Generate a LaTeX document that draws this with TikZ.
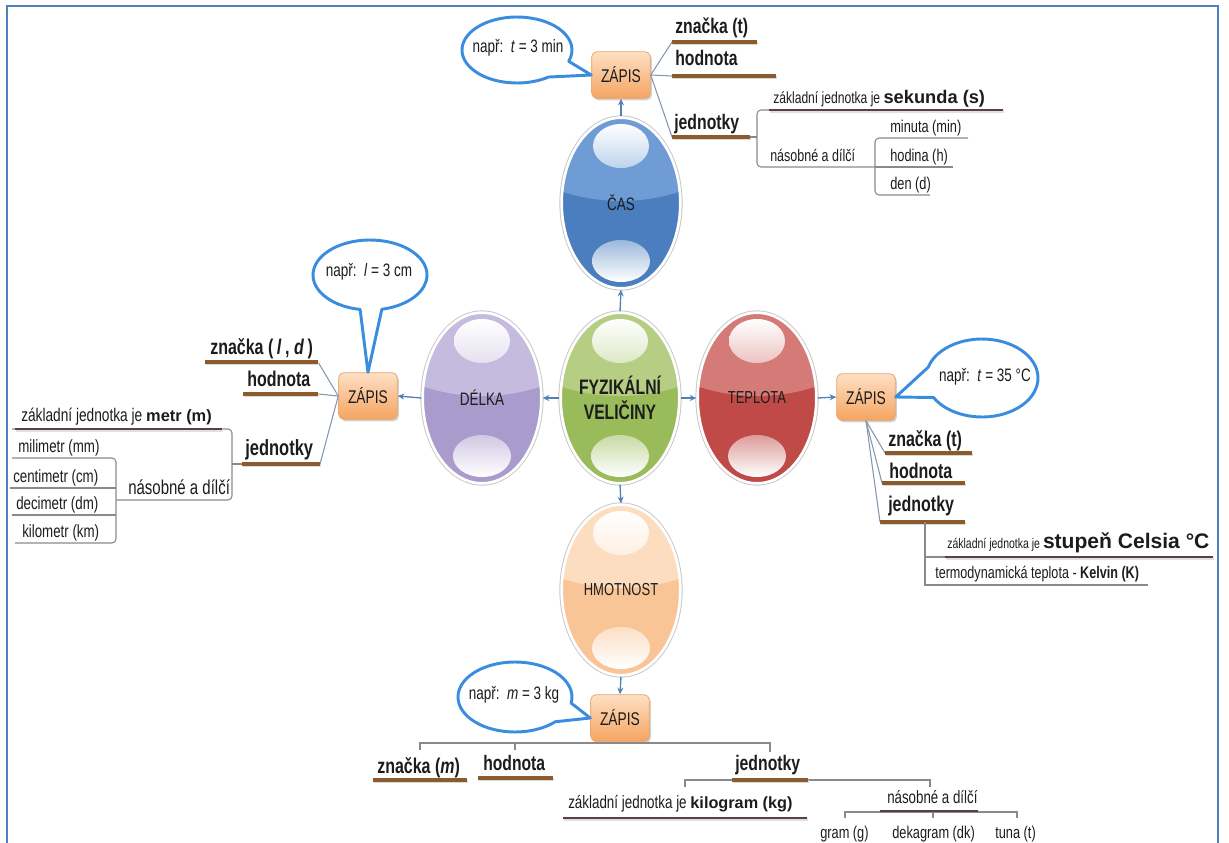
\documentclass[tikz,border=0pt]{standalone}
\usepackage{fontspec}
\setmainfont{Liberation Sans}[FakeStretch=0.75]
\newfontfamily\emf{Liberation Sans}
\usetikzlibrary{arrows.meta,shapes.geometric,calc}

\newcommand\sz[1]{\fontsize{#1pt}{\fpeval{#1*1.2}pt}\selectfont}

\definecolor{txt}{HTML}{1C1C1C}
\definecolor{framecol}{HTML}{4F81BD}
\definecolor{ulbrown}{HTML}{8C5A2C}
\definecolor{uldark}{HTML}{5A4141}
\definecolor{linegray}{HTML}{8A8A8A}
\definecolor{fancol}{HTML}{8496B0}
\definecolor{arrcol}{HTML}{5381B5}
\definecolor{bubcol}{HTML}{3A8DDE}
\definecolor{boxtop}{HTML}{FEE0C4}
\definecolor{boxbot}{HTML}{F5A460}
\definecolor{boxedge}{HTML}{E9A46C}
\definecolor{cbL}{HTML}{6F9CD4}\definecolor{cbD}{HTML}{4A7EBE}
\definecolor{gnL}{HTML}{B5CE84}\definecolor{gnD}{HTML}{9ABB59}
\definecolor{puL}{HTML}{C5BBDE}\definecolor{puD}{HTML}{A99BCB}
\definecolor{rdL}{HTML}{D47A77}\definecolor{rdD}{HTML}{BF4A47}
\definecolor{orL}{HTML}{FCDDBF}\definecolor{orD}{HTML}{F9C597}

\tikzset{
  egg/.style 2 args={shape=ellipse, inner sep=0pt, minimum width=89pt, minimum height=128pt,
    draw=white, line width=2pt, fill=#2, text=txt,
    preaction={draw=gray!45, line width=3.4pt},
    path picture={
      \coordinate (pc) at (path picture bounding box.center);
      \fill[#1] ($(pc)+(-80,-20)$) .. controls ($(pc)+(-30,4)$) and ($(pc)+(30,4)$) .. ($(pc)+(80,-20)$)
        -- ($(pc)+(80,-110)$) -- ($(pc)+(-80,-110)$) -- cycle;
      \shade[top color=white, bottom color=#1!45!white] ($(pc)+(0,-57)$) ellipse [x radius=28, y radius=22];
      \shade[top color=#2!55!white, bottom color=white] ($(pc)+(0,58)$) ellipse [x radius=29, y radius=21];
    }},
  zapis/.style={rectangle, rounded corners=4pt, minimum width=44pt, minimum height=35pt,
    draw=boxedge, line width=0.6pt, top color=boxtop, bottom color=boxbot, text=txt,
    font=\sz{13.8}, inner sep=0pt,
    preaction={fill=black!18, draw=none, transform canvas={shift={(1.2pt,-1.5pt)}}}},
  lbl/.style={anchor=base west, inner sep=0pt, text=txt},
  big/.style={lbl, font=\bfseries\sz{#1}},
  sm/.style={lbl, font=\sz{#1}},
  ul/.style={draw=ulbrown, line width=2.6pt,
    preaction={draw=black!15, line width=2.4pt, transform canvas={shift={(0.8pt,-1.4pt)}}}},
  uld/.style={draw=uldark, line width=2.2pt,
    preaction={draw=black!12, line width=2pt, transform canvas={shift={(0.8pt,-1.3pt)}}}},
  gl/.style={draw=linegray, line width=0.8pt},
  fan/.style={draw=fancol, line width=0.8pt},
  arr/.style={draw=arrcol, line width=1pt, -{Stealth[length=5pt,width=4.5pt]}},
  bubble/.style={draw=bubcol, line width=2.2pt, fill=white, line join=round},
  btext/.style={inner sep=0pt, text=txt, font=\sz{13.5}},
}

\begin{document}
\begin{tikzpicture}[x=0.75pt, y=-0.75pt]
\useasboundingbox (0,0) rectangle (1229,843);

% frame
\draw[framecol, line width=1.8pt] (7,870) -- (7,6) -- (1218,6) -- (1218,870);

% the five quantities
\node[egg={gnL}{gnD}, font=\bfseries\sz{15.7}, align=center] (fv) at (620,398) {FYZIKÁLNÍ\\VELIČINY};
\node[egg={cbL}{cbD}, font=\sz{13.5}] (cas) at (621,203) {ČAS};
\node[egg={puL}{puD}, font=\sz{13.5}] (delka) at (482,398) {DÉLKA};
\node[egg={rdL}{rdD}, font=\sz{13}] (tepl) at (757,398) {TEPLOTA};
\node[egg={orL}{orD}, font=\sz{13}] (hmot) at (621,590) {HMOTNOST};

% notation boxes
\node[zapis] (zt) at (621,75) {ZÁPIS};
\node[zapis] (zl) at (368,396) {ZÁPIS};
\node[zapis] (zr) at (866,397) {ZÁPIS};
\node[zapis] (zb) at (620,718) {ZÁPIS};

% arrows
\draw[arr] (fv.north) -- (cas.south);
\draw[arr] (cas.north) -- (zt.south);
\draw[arr] (fv.west) -- (delka.east);
\draw[arr] (delka.west) -- (zl.east);
\draw[arr] (fv.east) -- (tepl.west);
\draw[arr] (tepl.east) -- (zr.west);
\draw[arr] (fv.south) -- (hmot.north);
\draw[arr] (hmot.south) -- (zb.north);

% speech bubbles with examples
\draw[bubble] ($(517,50)+(55:55 and 33)$) arc[start angle=55, end angle=380, x radius=55, y radius=33] -- (zt.west) -- cycle;
\node[btext] (bt) at (518,48) {např:\ \ \textit{t} = 3 min};
\draw[bubble] ($(370,275)+(100:57 and 35)$) arc[start angle=100, end angle=438, x radius=57, y radius=35] -- (zl.north) -- cycle;
\node[btext] (bl) at (369,272) {např:\ \ \textit{l} = 3 cm};
\draw[bubble] ($(982,378)+(196:56 and 39)$) arc[start angle=196, end angle=510, x radius=56, y radius=39] -- (zr.east) -- cycle;
\node[btext] (br) at (985,377) {např:\ \ \textit{t} = 35 °C};
\draw[bubble] ($(515,697)+(45:57 and 35)$) arc[start angle=45, end angle=370, x radius=57, y radius=35] -- (zb.west) -- cycle;
\node[btext] (bb) at (514,695) {např:\ \ \textit{m} = 3 kg};

% ---------- ČAS ----------
\coordinate (tz1) at (672,42);  \coordinate (tz2) at (757,42);
\coordinate (th1) at (672,76);  \coordinate (th2) at (776,76);
\coordinate (tj1) at (672,137); \coordinate (tj2) at (750,137);
\draw[fan] (zt.east) -- (tz1);
\draw[fan] (zt.east) -- (th1);
\draw[fan] (zt.east) -- (tj1);
\draw[ul] (tz1) -- (tz2);
\draw[ul] (th1) -- (th2);
\draw[ul] (tj1) -- (tj2);
\node[big=15.8] (tz) at (675,33) {značka (t)};
\node[big=15.8] (th) at (675,65) {hodnota};
\node[big=15.8] (tj) at (674,129) {jednotky};
\coordinate (tb) at (757,137);
\draw[gl] (tj2) -- (tb);
\draw[gl, rounded corners=3pt] (1002,110) -- (757,110) -- (757,167) -- (875,167);
\draw[uld] (769,110) -- (1003,110);
\node[sm=12.1] (tk) at (773,103) {základní jednotka je {\emf\bfseries\sz{13.7}sekunda (s)}};
\node[sm=12.5] (tn) at (770,161) {násobné a dílčí};
\draw[gl, rounded corners=3pt] (968,138) -- (875,138) -- (875,195) -- (930,195);
\draw[gl] (875,167) -- (953,167);
\node[sm=12.8] (t1) at (890,132) {minuta (min)};
\node[sm=12.8] (t2) at (890,161) {hodina (h)};
\node[sm=12.8] (t3) at (890,189) {den (d)};

% ---------- DÉLKA ----------
\coordinate (lz1) at (205,362); \coordinate (lz2) at (318,362);
\coordinate (lh1) at (243,394); \coordinate (lh2) at (318,394);
\coordinate (lj1) at (242,464); \coordinate (lj2) at (320,464);
\draw[fan] (zl.west) -- (lz2);
\draw[fan] (zl.west) -- (lh2);
\draw[fan] (zl.west) -- (lj2);
\draw[ul] (lz1) -- (lz2);
\draw[ul] (lh1) -- (lh2);
\draw[ul] (lj1) -- (lj2);
\node[big=16] (lz) at (210,354) {značka (\,\textit{l}\,, \textit{d}\,)};
\node[big=16] (lh) at (247,386) {hodnota};
\node[big=16.5] (lj) at (245,455) {jednotky};
\coordinate (lb) at (232,464);
\draw[gl] (lj1) -- (lb);
\draw[gl, rounded corners=3pt] (12,429) -- (232,429) -- (232,500) -- (116,500);
\draw[uld] (15,429) -- (222,429);
\node[sm=13.7] (lk) at (21,421) {základní jednotka je {\emf\bfseries\sz{12.3}metr (m)}};
\node[sm=15] (ln) at (128,494) {násobné a dílčí};
\draw[gl, rounded corners=3pt] (12,458) -- (116,458) -- (116,543) -- (15,543);
\draw[gl] (10,488) -- (116,488);
\draw[gl] (12,515) -- (116,515);
\node[sm=13.3] (l1) at (18,452) {milimetr (mm)};
\node[sm=13.3] (l2) at (13,482) {centimetr (cm)};
\node[sm=13.3] (l3) at (16,509) {decimetr (dm)};
\node[sm=13.3] (l4) at (22,537) {kilometr (km)};

% ---------- TEPLOTA ----------
\coordinate (rz1) at (885,453); \coordinate (rz2) at (972,453);
\coordinate (rh1) at (882,483); \coordinate (rh2) at (965,483);
\coordinate (rj1) at (880,522); \coordinate (rj2) at (965,522);
\draw[fan] (zr.south) -- (rz1);
\draw[fan] (zr.south) -- (rh1);
\draw[fan] (zr.south) -- (rj1);
\draw[ul] (rz1) -- (rz2);
\draw[ul] (rh1) -- (rh2);
\draw[ul] (rj1) -- (rj2);
\node[big=16] (rz) at (888,446) {značka (t)};
\node[big=16] (rh) at (889,478) {hodnota};
\node[big=16] (rj) at (888,511) {jednotky};
\coordinate (rb) at (925,522);
\draw[gl] (rb) -- (925,585) -- (1148,585);
\draw[gl] (925,557) -- (1213,557);
\draw[uld] (945,557) -- (1213,557);
\node[sm=10.5] (rk) at (947,548) {základní jednotka je {\emf\bfseries\sz{15.8}stupeň Celsia °C}};
\node[sm=12.6] (rt) at (935,578) {termodynamická teplota - {\bfseries Kelvin (K)}};

% ---------- HMOTNOST ----------
\coordinate (bh0) at (420,743); \coordinate (bh1) at (770,743);
\draw[gl] (420,750) -- (bh0) -- (bh1) -- (770,752);
\draw[gl] (515,743) -- (515,750);
\coordinate (bz1) at (373,780); \coordinate (bz2) at (467,780);
\coordinate (bv1) at (478,778); \coordinate (bv2) at (553,778);
\coordinate (bj1) at (732,780); \coordinate (bj2) at (808,780);
\draw[gl] (685,787) -- (685,780) -- (930,780) -- (930,787);
\draw[ul] (bz1) -- (bz2);
\draw[ul] (bv1) -- (bv2);
\draw[ul] (bj1) -- (bj2);
\node[big=16] (bz) at (377,773) {značka (\textit{m})};
\node[big=15.7] (bv) at (483,770) {hodnota};
\node[big=15.8] (bj) at (735,770) {jednotky};
\draw[uld] (563,818) -- (807,818);
\node[sm=13.4] (bk) at (568,808) {základní jednotka je {\emf\bfseries\sz{12.2}kilogram (kg)}};
\draw[gl] (845,818) -- (845,812) -- (1017,812) -- (1017,818);
\draw[gl] (933,812) -- (933,818);
\draw[draw=uldark, line width=1.4pt] (880,811) -- (978,811);
\node[sm=13.3] (bn) at (887,803) {násobné a dílčí};
\node[sm=12.8] (b1) at (820,838) {gram (g)};
\node[sm=12.8] (b2) at (892,838) {dekagram (dk)};
\node[sm=12.8] (b3) at (995,838) {tuna (t)};
\end{tikzpicture}
\end{document}
